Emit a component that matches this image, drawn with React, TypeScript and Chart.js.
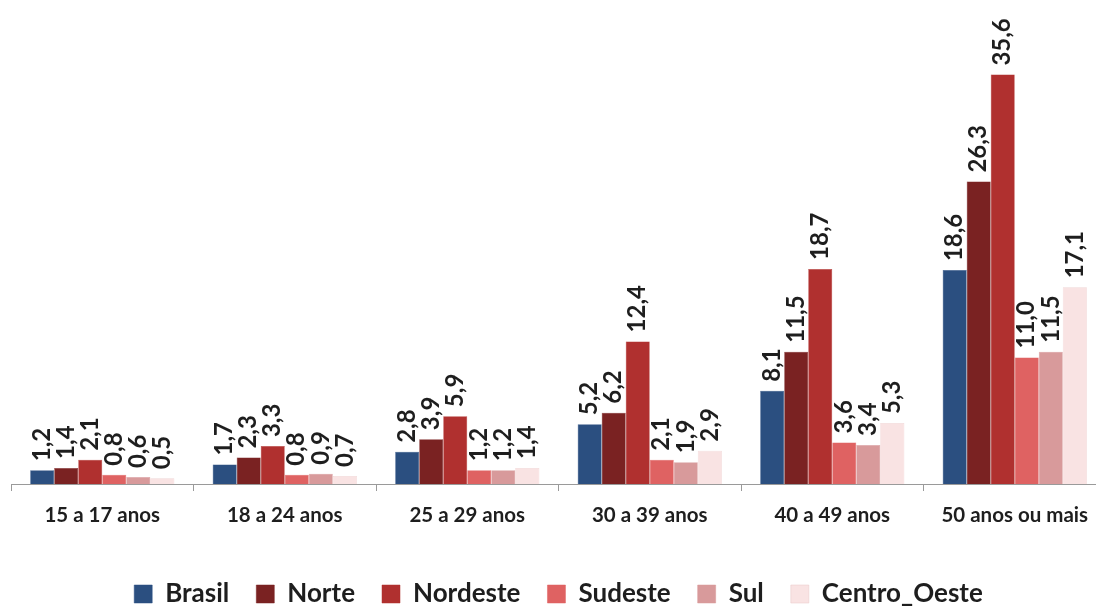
import React, { useEffect, useRef } from "react";
import { Chart, registerables } from "chart.js";

Chart.register(...registerables);

const categories = ["15 a 17 anos", "18 a 24 anos", "25 a 29 anos", "30 a 39 anos", "40 a 49 anos", "50 anos ou mais"];
const seriesNames = ["Brasil", "Norte", "Nordeste", "Sudeste", "Sul", "Centro_Oeste"];
const brasil = [1.2, 1.7, 2.8, 5.2, 8.1, 18.6];
const norte = [1.4, 2.3, 3.9, 6.2, 11.5, 26.3];
const nordeste = [2.1, 3.3, 5.9, 12.4, 18.7, 35.6];
const sudeste = [0.8, 0.8, 1.2, 2.1, 3.6, 11.0];
const sul = [0.6, 0.9, 1.2, 1.9, 3.4, 11.5];
const centroOeste = [0.5, 0.7, 1.4, 2.9, 5.3, 17.1];
const seriesValues = [brasil, norte, nordeste, sudeste, sul, centroOeste];
const seriesColors = ["#2b4f80", "#7a2222", "#b0302f", "#df6262", "#d89a9b", "#f9e3e3"];

const FONT = "Lato, 'Open Sans', sans-serif";

const labelPlugin = {
  id: "barValueLabels",
  afterDatasetsDraw(chart: any) {
    const ctx = chart.ctx;
    ctx.save();
    ctx.font = `bold 24px ${FONT}`;
    ctx.fillStyle = "#1e1e1e";
    ctx.textAlign = "left";
    ctx.textBaseline = "middle";
    chart.data.datasets.forEach((ds: any, di: number) => {
      const meta = chart.getDatasetMeta(di);
      meta.data.forEach((el: any, i: number) => {
        const v = ds.data[i] as number;
        const txt = v.toFixed(1).replace(".", ",");
        ctx.save();
        ctx.translate(el.x, el.y - 9);
        ctx.rotate(-Math.PI / 2);
        ctx.fillText(txt, 0, 0);
        ctx.restore();
      });
    });
    ctx.restore();
  },
};

export default function App() {
  const ref = useRef<HTMLCanvasElement>(null);
  useEffect(() => {
    if (!ref.current) return;
    const chart = new Chart(ref.current, {
      type: "bar",
      data: {
        labels: categories,
        datasets: seriesNames.map((name, i) => ({
          label: name,
          data: seriesValues[i],
          backgroundColor: seriesColors[i],
          borderColor: i === 5 ? "#e8c6c6" : seriesColors[i],
          borderWidth: 0.5,
          categoryPercentage: 0.79,
          barPercentage: 1,
        })),
      },
      options: {
        responsive: false,
        animation: false,
        devicePixelRatio: 1,
        layout: { padding: { left: 11, right: 0, top: 24, bottom: -9 } },
        plugins: {
          legend: {
            position: "bottom",
            labels: {
              boxWidth: 18,
              boxHeight: 18,
              padding: 27,
              color: "#1e1e1e",
              font: { family: FONT, size: 26, weight: "bold" },
            },
          },
          tooltip: { enabled: false },
        },
        scales: {
          x: {
            grid: {
              display: true,
              drawOnChartArea: false,
              drawTicks: true,
              tickLength: 7,
              color: "#9a9a9a",
              offset: true,
            },
            border: { display: true, color: "#9a9a9a" },
            ticks: {
              color: "#1e1e1e",
              font: { family: FONT, size: 20.5, weight: "bold" },
              padding: 12,
              maxRotation: 0,
              autoSkip: false,
            },
            afterFit: (scale: any) => {
              scale.height = 70;
            },
          },
          y: { display: false, min: 0, max: 40 },
        },
      },
      plugins: [labelPlugin],
    });
    return () => chart.destroy();
  }, []);
  return (
    <div style={{ position: "fixed", left: 0, top: 0, width: 1096, height: 608, overflow: "hidden", background: "#fff" }}>
      <canvas ref={ref} width={1106} height={608} />
    </div>
  );
}
